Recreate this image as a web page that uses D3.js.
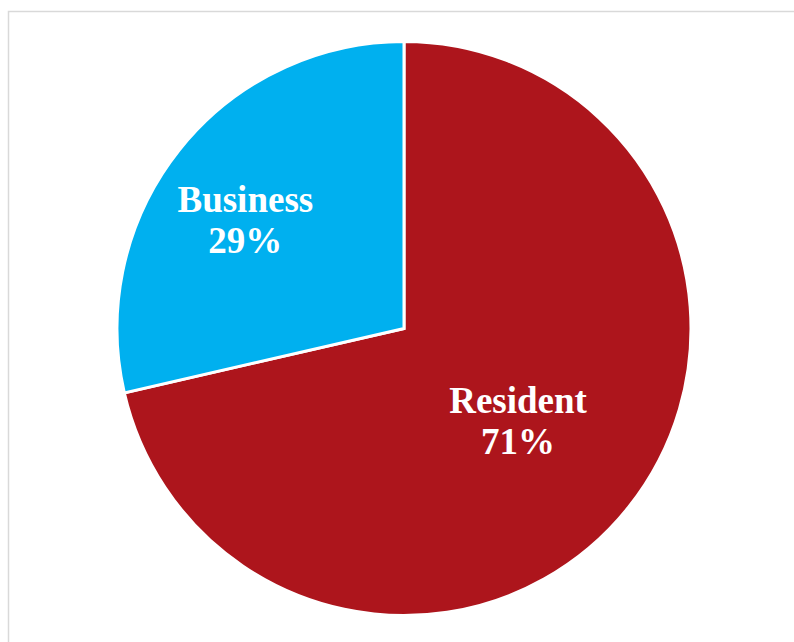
<!DOCTYPE html>
<html><head><meta charset="utf-8">
<script src="https://cdn.jsdelivr.net/npm/d3@7"></script>
<style>html,body{margin:0;padding:0;background:#fff;overflow:hidden}</style>
</head><body>
<svg id="chart" width="794" height="642"></svg>
<script>
const categories = ["Resident", "Business"];
const values = [71.4, 28.6];
const labels = ["71%", "29%"];
const colors = ["#AD151C", "#00B0EF"];

const svg = d3.select("#chart");
svg.append("rect").attr("x", 8.5).attr("y", 11.5).attr("width", 800).attr("height", 700)
  .attr("fill", "#fff").attr("stroke", "#d9d9d9").attr("stroke-width", 1.5);

const cx = 404, cy = 328.5, r = 287;
const g = svg.append("g").attr("transform", `translate(${cx},${cy})`);
const pie = d3.pie().sort(null).value(d => d.v);
const data = pie(categories.map((c, i) => ({c, v: values[i], l: labels[i], col: colors[i]})));
const arc = d3.arc().innerRadius(0).outerRadius(r);
g.selectAll("path").data(data).join("path")
  .attr("d", arc).attr("fill", d => d.data.col)
  .attr("stroke", "#fff").attr("stroke-width", 3).attr("stroke-linejoin", "miter");

// label placement (Excel "best fit"-like): radius factor and angle nudge per slice
const labelLayout = [{rf: 0.535, da: 3.5}, {rf: 0.65, da: -6.8}];
const txt = g.selectAll("text").data(data).join("text")
  .attr("text-anchor", "middle")
  .attr("font-family", "'Liberation Serif', 'Times New Roman', serif")
  .attr("font-weight", "bold").attr("font-size", 37).attr("fill", "#fff")
  .attr("transform", (d, i) => {
    const L = labelLayout[i];
    const a = (d.startAngle + d.endAngle) / 2 + L.da * Math.PI / 180;
    const rr = r * L.rf;
    return `translate(${rr * Math.sin(a)},${-rr * Math.cos(a)})`;
  });
txt.append("tspan").attr("x", 0).attr("y", -18.5).text(d => d.data.c);
txt.append("tspan").attr("x", 0).attr("y", 23).text(d => d.data.l);
</script>
</body></html>
